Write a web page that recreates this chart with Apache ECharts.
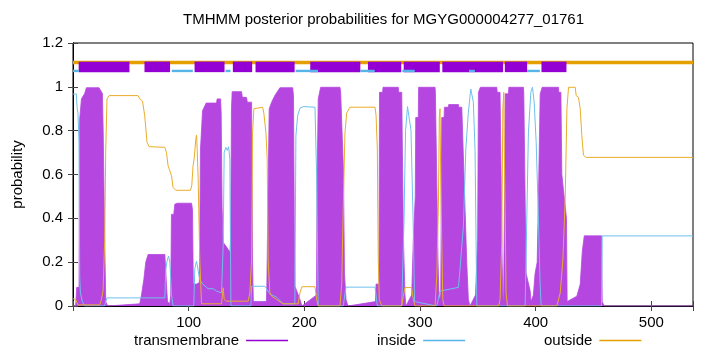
<!DOCTYPE html>
<html>
<head>
<meta charset="utf-8">
<script src="https://cdn.jsdelivr.net/npm/echarts@6/dist/echarts.min.js"></script>
<style>
  html, body { margin: 0; padding: 0; background: #fff; }
  #main { width: 720px; height: 352px; }
</style>
</head>
<body>
<div id="main"></div>
<script>
// residue position / posterior probability
var tmCurve = [
  [0, 0], [2.3, 0], [3.2, 0.085], [5.2, 0.085], [5.8, 0.853], [7.3, 0.945], [10.1, 0.97], [11.6, 0.996],
  [22.5, 0.996], [25.4, 0.97], [26.1, 0.8], [27.4, 0.3], [28.3, 0.02], [30, 0],
  [57.7, 0.01], [59.2, 0.05], [61.2, 0.12], [62.9, 0.2], [64.9, 0.235], [79.4, 0.235], [80.8, 0.1], [81.7, 0.02], [83.7, 0.01],
  [84.5, 0.05], [85.1, 0.418], [87.1, 0.418], [88, 0.464], [90, 0.469], [102.5, 0.469], [103.3, 0.44], [104, 0.1],
  [106.8, 0.1], [109.2, 0.107], [109.9, 0.5], [110.2, 0.716], [112, 0.891], [115.1, 0.926], [124.1, 0.926], [124.6, 0.945],
  [127.6, 0.945], [128.1, 0.88], [128.9, 0.45], [129.8, 0.29], [132.7, 0.27], [135.6, 0.245], [136.3, 0.3], [137, 0.9],
  [137.6, 0.978], [145.7, 0.978], [146.4, 0.952], [150, 0.952], [150.7, 0.93], [154.4, 0.93], [155.2, 0.2], [155.9, 0.02],
  [167.2, 0.02], [167.6, 0.1], [169.3, 0.107], [169.6, 0.899], [171.7, 0.93], [174.5, 0.96], [178.9, 0.996], [189.9, 0.996],
  [190.6, 0.96], [191.4, 0.3], [191.9, 0.09], [196.2, 0.03], [197.9, 0],
  [210.5, 0.05], [211.1, 0.6], [212, 0.945], [214.1, 0.998], [230.8, 0.998], [231.4, 0.975], [233.1, 0.975], [233.8, 0.62],
  [234.7, 0.15], [236, 0.03], [237.7, 0],
  [261.5, 0.02], [262, 0.1], [264.5, 0.1], [265, 0.975], [267.7, 0.975], [268, 0.998], [281.2, 0.998], [281.6, 0.975],
  [284.2, 0.975], [285.6, 0.32], [287, 0.05], [287.8, 0],
  [292.8, 0.05], [294.2, 0.3], [295.9, 0.5], [296.3, 0.86], [298.5, 0.86], [298.8, 0.998], [313, 0.998], [313.3, 0.975],
  [314.5, 0.975], [315.6, 0.2], [316.5, 0.03],
  [317.9, 0.05], [318.8, 0.86], [320.8, 0.86], [321.1, 0.907], [324.5, 0.907], [324.8, 0.919], [333.2, 0.919], [333.4, 0.907],
  [336.1, 0.907], [336.4, 0.86], [338.1, 0.86], [338.6, 0.5], [340.4, 0.2], [341.8, 0.03], [343.2, 0],
  [348, 0.05], [349.8, 0.3], [350.5, 0.975], [351.9, 0.975], [352.2, 0.998], [366.4, 0.998], [366.7, 0.975], [369.2, 0.975],
  [370.1, 0.6], [371, 0.2], [371.8, 0.02],
  [372.3, 0.05], [373.3, 0.6], [373.6, 0.968], [376.4, 0.968], [376.8, 0.998], [389.4, 0.998], [389.7, 0.975], [390.9, 0.975],
  [391.7, 0.15], [395.2, 0.07], [396, 0.02],
  [398, 0.05], [399.5, 0.15], [401.3, 0.2], [402.4, 0.5], [403.9, 0.968], [405.3, 0.968], [405.6, 0.998], [419.7, 0.998],
  [420, 0.975], [421.8, 0.975], [422.6, 0.6], [424.6, 0.5], [426.6, 0.4], [427.2, 0.02],
  [435.6, 0.045], [438.5, 0.1], [440.3, 0.25], [442, 0.32], [456.9, 0.32], [457.5, 0.02], [459.2, 0], [536, 0]
];

var insideCurve = [
  [0, 0.967], [2.9, 0.967], [3.5, 0.907], [4.3, 0.88], [5.2, 0.75], [5.8, 0.136], [6.4, 0.06], [8.1, 0.02], [10.1, 0],
  [27.4, 0], [28.3, 0.02], [29.4, 0.037], [79.4, 0.037], [80.2, 0.167], [81.3, 0.205], [82.6, 0.228], [83.7, 0.2],
  [85.2, 0.05], [86.5, 0], [104.4, 0], [105.3, 0.17], [106.8, 0.205], [108.2, 0.205], [109.6, 0.12], [112.5, 0.098],
  [116.8, 0.079], [121.1, 0.079], [124.1, 0.068], [128.4, 0.06], [129.8, 0.27], [130.7, 0.7], [132.1, 0.724], [133.3, 0.71],
  [134.5, 0.727], [135.6, 0.67], [136.5, 0], [153.8, 0], [154.4, 0.09], [155.5, 0.09], [165.9, 0.09], [170.2, 0.055],
  [176, 0.04], [181.7, 0.01], [191.8, 0.01], [192.7, 0.777], [194.2, 0.868], [196.2, 0.902], [199, 0.91], [209.2, 0.907],
  [210.6, 0.6], [212, 0], [233.6, 0], [236, 0.086], [261.1, 0.086], [263.1, 0], [284.2, 0], [286.2, 0.4], [287.5, 0.8],
  [289.2, 0.91], [290.9, 0.91], [292.2, 0.8], [294, 0.4], [295.3, 0.02], [314.5, 0], [317.3, 0.068], [333.2, 0.085],
  [334.6, 0.17], [337.5, 0.365], [339.6, 0.716], [341.8, 0.884], [343.9, 0.99], [345, 0.998], [346.1, 0.93], [347.6, 0.71],
  [349.1, 0], [390.9, 0], [393.7, 0.79], [395.8, 0.975], [397.2, 0.998], [398.7, 0.93], [400.4, 0.75], [402.1, 0.45],
  [403.8, 0.1], [404.7, 0], [456.9, 0], [457.5, 0.32], [536, 0.32]
];

var outsideCurve = [
  [0, 0.033], [2.3, 0.03], [4.3, 0.005], [23.1, 0.005], [24.6, 0.03], [26, 0.07], [27.4, 0.3], [28.3, 0.716], [29.4, 0.945],
  [31.2, 0.96], [56.2, 0.96], [57.7, 0.945], [60.1, 0.935], [62, 0.868], [64, 0.747], [65.8, 0.727], [79.4, 0.724],
  [80.8, 0.7], [82.2, 0.64], [83.7, 0.632], [85.2, 0.594], [86.5, 0.541], [88.9, 0.528], [101.6, 0.528], [102.7, 0.55],
  [103.8, 0.64], [104.7, 0.67], [106.2, 0.762], [106.8, 0.78], [107.3, 0.72], [108.2, 0.58], [109.6, 0.213], [111.1, 0.01],
  [128.4, 0.01], [129.8, 0.083], [130.7, 0.03], [132.7, 0.022], [151.4, 0.022], [152.9, 0.06], [154.4, 0.21], [155.2, 0.79],
  [156.4, 0.9], [157.2, 0.907], [163.9, 0.907], [165, 0.88], [166.8, 0.79], [167.9, 0.67], [168.7, 0.21], [170.2, 0.06],
  [171.7, 0.045], [176, 0.03], [181.7, 0.01], [194.7, 0.01], [196.2, 0.06], [197.9, 0.088], [209.2, 0.088], [210.6, 0.03],
  [212, 0], [230.8, 0], [232.3, 0.1], [233.6, 0.44], [235.1, 0.79], [236.6, 0.88], [239.4, 0.907], [261.1, 0.907],
  [262, 0.87], [263.1, 0.716], [263.9, 0.213], [264.8, 0.03], [266.9, 0], [284.2, 0], [285.6, 0.045], [287, 0.084],
  [292.8, 0.084], [294.2, 0.03], [295.7, 0], [313, 0], [314.5, 0.136], [315.9, 0.464], [316.7, 0.868], [317.3, 0.9],
  [317.9, 0.58], [318.8, 0.29], [319.7, 0.03], [320.8, 0], [368, 0], [369.2, 0.03], [370.7, 0.29], [371.6, 0.9],
  [372.4, 0.975], [372.9, 0.7], [373.6, 0.44], [374.4, 0.06], [375.6, 0], [418.3, 0], [421.2, 0.06], [423.5, 0.21],
  [425.5, 0.487], [427, 0.9], [428.4, 0.998], [434.2, 0.998], [435, 0.96], [437, 0.952], [438.5, 0.9], [439.9, 0.777],
  [441.3, 0.688], [443.6, 0.678], [536, 0.678]
];

// predicted topology drawn above the curves
var tmSegments = [
  [4.9, 48.8], [61.8, 83.9], [105.1, 131], [138.2, 154.9], [157.8, 191.6], [205.1, 248.4],
  [255, 283.8], [285.9, 317.1], [319.3, 371.8], [373.3, 392.6], [405, 426.6]
];
var insideSegments = [
  [0, 4.9], [85.4, 103.6], [131.9, 136.2], [192.5, 211.8], [248.4, 260.8],
  [284.7, 295.4], [342.4, 347.4], [392.6, 403.6]
];
var seqLength = 536;

var FONT = 'Liberation Sans';
var chart = echarts.init(document.getElementById('main'));

function segRenderer(yTop, yBottom, color) {
  return function (params, api) {
    var p1 = api.coord([api.value(0), yTop]);
    var p2 = api.coord([api.value(1), yBottom]);
    return {
      type: 'rect',
      shape: { x: p1[0], y: p1[1], width: p2[0] - p1[0], height: p2[1] - p1[1] },
      style: { fill: color }
    };
  };
}

var tickStyle = { show: true, inside: true, length: 5, lineStyle: { color: '#444', width: 1 } };

chart.setOption({
  animation: false,
  backgroundColor: '#fff',
  title: {
    text: 'TMHMM posterior probabilities for MGYG000004277_01761',
    left: 183,
    top: 12,
    padding: 0,
    textStyle: { fontFamily: FONT, fontSize: 15, fontWeight: 'normal', color: '#000' }
  },
  grid: { left: 73, right: 27, top: 43, bottom: 46, show: true, borderColor: '#000', borderWidth: 1, backgroundColor: 'transparent' },
  legend: [
    { data: ['transmembrane'], left: 134, top: 333 },
    { data: ['inside'], left: 377, top: 333 },
    { data: ['outside'], left: 544, top: 333 }
  ].map(function (l) {
    return Object.assign(l, {
      align: 'right', icon: 'rect', itemWidth: 42, itemHeight: 1.5, itemGap: 8, padding: 0,
      textStyle: { fontFamily: FONT, fontSize: 15, color: '#000', padding: [0, 2, 0, 0] }
    });
  }),
  xAxis: [{
    type: 'value', min: 0, max: seqLength, interval: 100,
    axisLine: { show: true, onZero: false, lineStyle: { color: '#000' } },
    axisTick: tickStyle,
    splitLine: { show: false },
    axisLabel: {
      fontFamily: FONT, fontSize: 15, color: '#000', margin: 9,
      formatter: function (v) { return (v > 0 && v % 100 === 0) ? String(v) : ''; }
    }
  }, {
    type: 'value', position: 'top', min: 0, max: seqLength, interval: 100,
    axisLine: { show: true, lineStyle: { color: '#000' } },
    axisTick: tickStyle, axisLabel: { show: false }, splitLine: { show: false }
  }],
  yAxis: [{
    type: 'value', min: 0, max: 1.2, interval: 0.2,
    name: 'probability', nameLocation: 'middle', nameGap: 48,
    nameTextStyle: { fontFamily: FONT, fontSize: 15, color: '#000' },
    axisLine: { show: true, lineStyle: { color: '#000' } },
    axisTick: tickStyle,
    splitLine: { show: false },
    axisLabel: { fontFamily: FONT, fontSize: 15, color: '#000', margin: 10 }
  }, {
    type: 'value', position: 'right', min: 0, max: 1.2, interval: 0.2,
    axisLine: { show: true, lineStyle: { color: '#000' } },
    axisTick: tickStyle, axisLabel: { show: false }, splitLine: { show: false }
  }],
  series: [
    {
      name: 'transmembrane', type: 'line', data: tmCurve, symbol: 'none',
      color: '#9400d3',
      lineStyle: { width: 0.8, color: '#b547e0' },
      areaStyle: { color: '#b547e0', opacity: 1, origin: 'start' },
      z: 2
    },
    {
      name: 'inside', type: 'line', data: insideCurve, symbol: 'none',
      color: '#56b4e9', lineStyle: { width: 1, color: '#70bfec' }, z: 4
    },
    {
      name: 'outside', type: 'line', data: outsideCurve, symbol: 'none',
      color: '#e69f00', lineStyle: { width: 1, color: '#e9ad2a' }, z: 4
    },
    {
      name: 'outsideBar', type: 'line', data: [[0, 1.111], [seqLength, 1.111]], symbol: 'none',
      lineStyle: { width: 3.3, color: '#e69f00' }, z: 5, silent: true
    },
    {
      name: 'tmBar', type: 'custom', data: tmSegments, encode: { x: [0, 1] },
      renderItem: segRenderer(1.115, 1.067, '#9400d3'), z: 6, silent: true
    },
    {
      name: 'insideBar', type: 'custom', data: insideSegments, encode: { x: [0, 1] },
      renderItem: segRenderer(1.078, 1.067, '#56b4e9'), z: 7, silent: true
    }
  ]
});
</script>
</body>
</html>
